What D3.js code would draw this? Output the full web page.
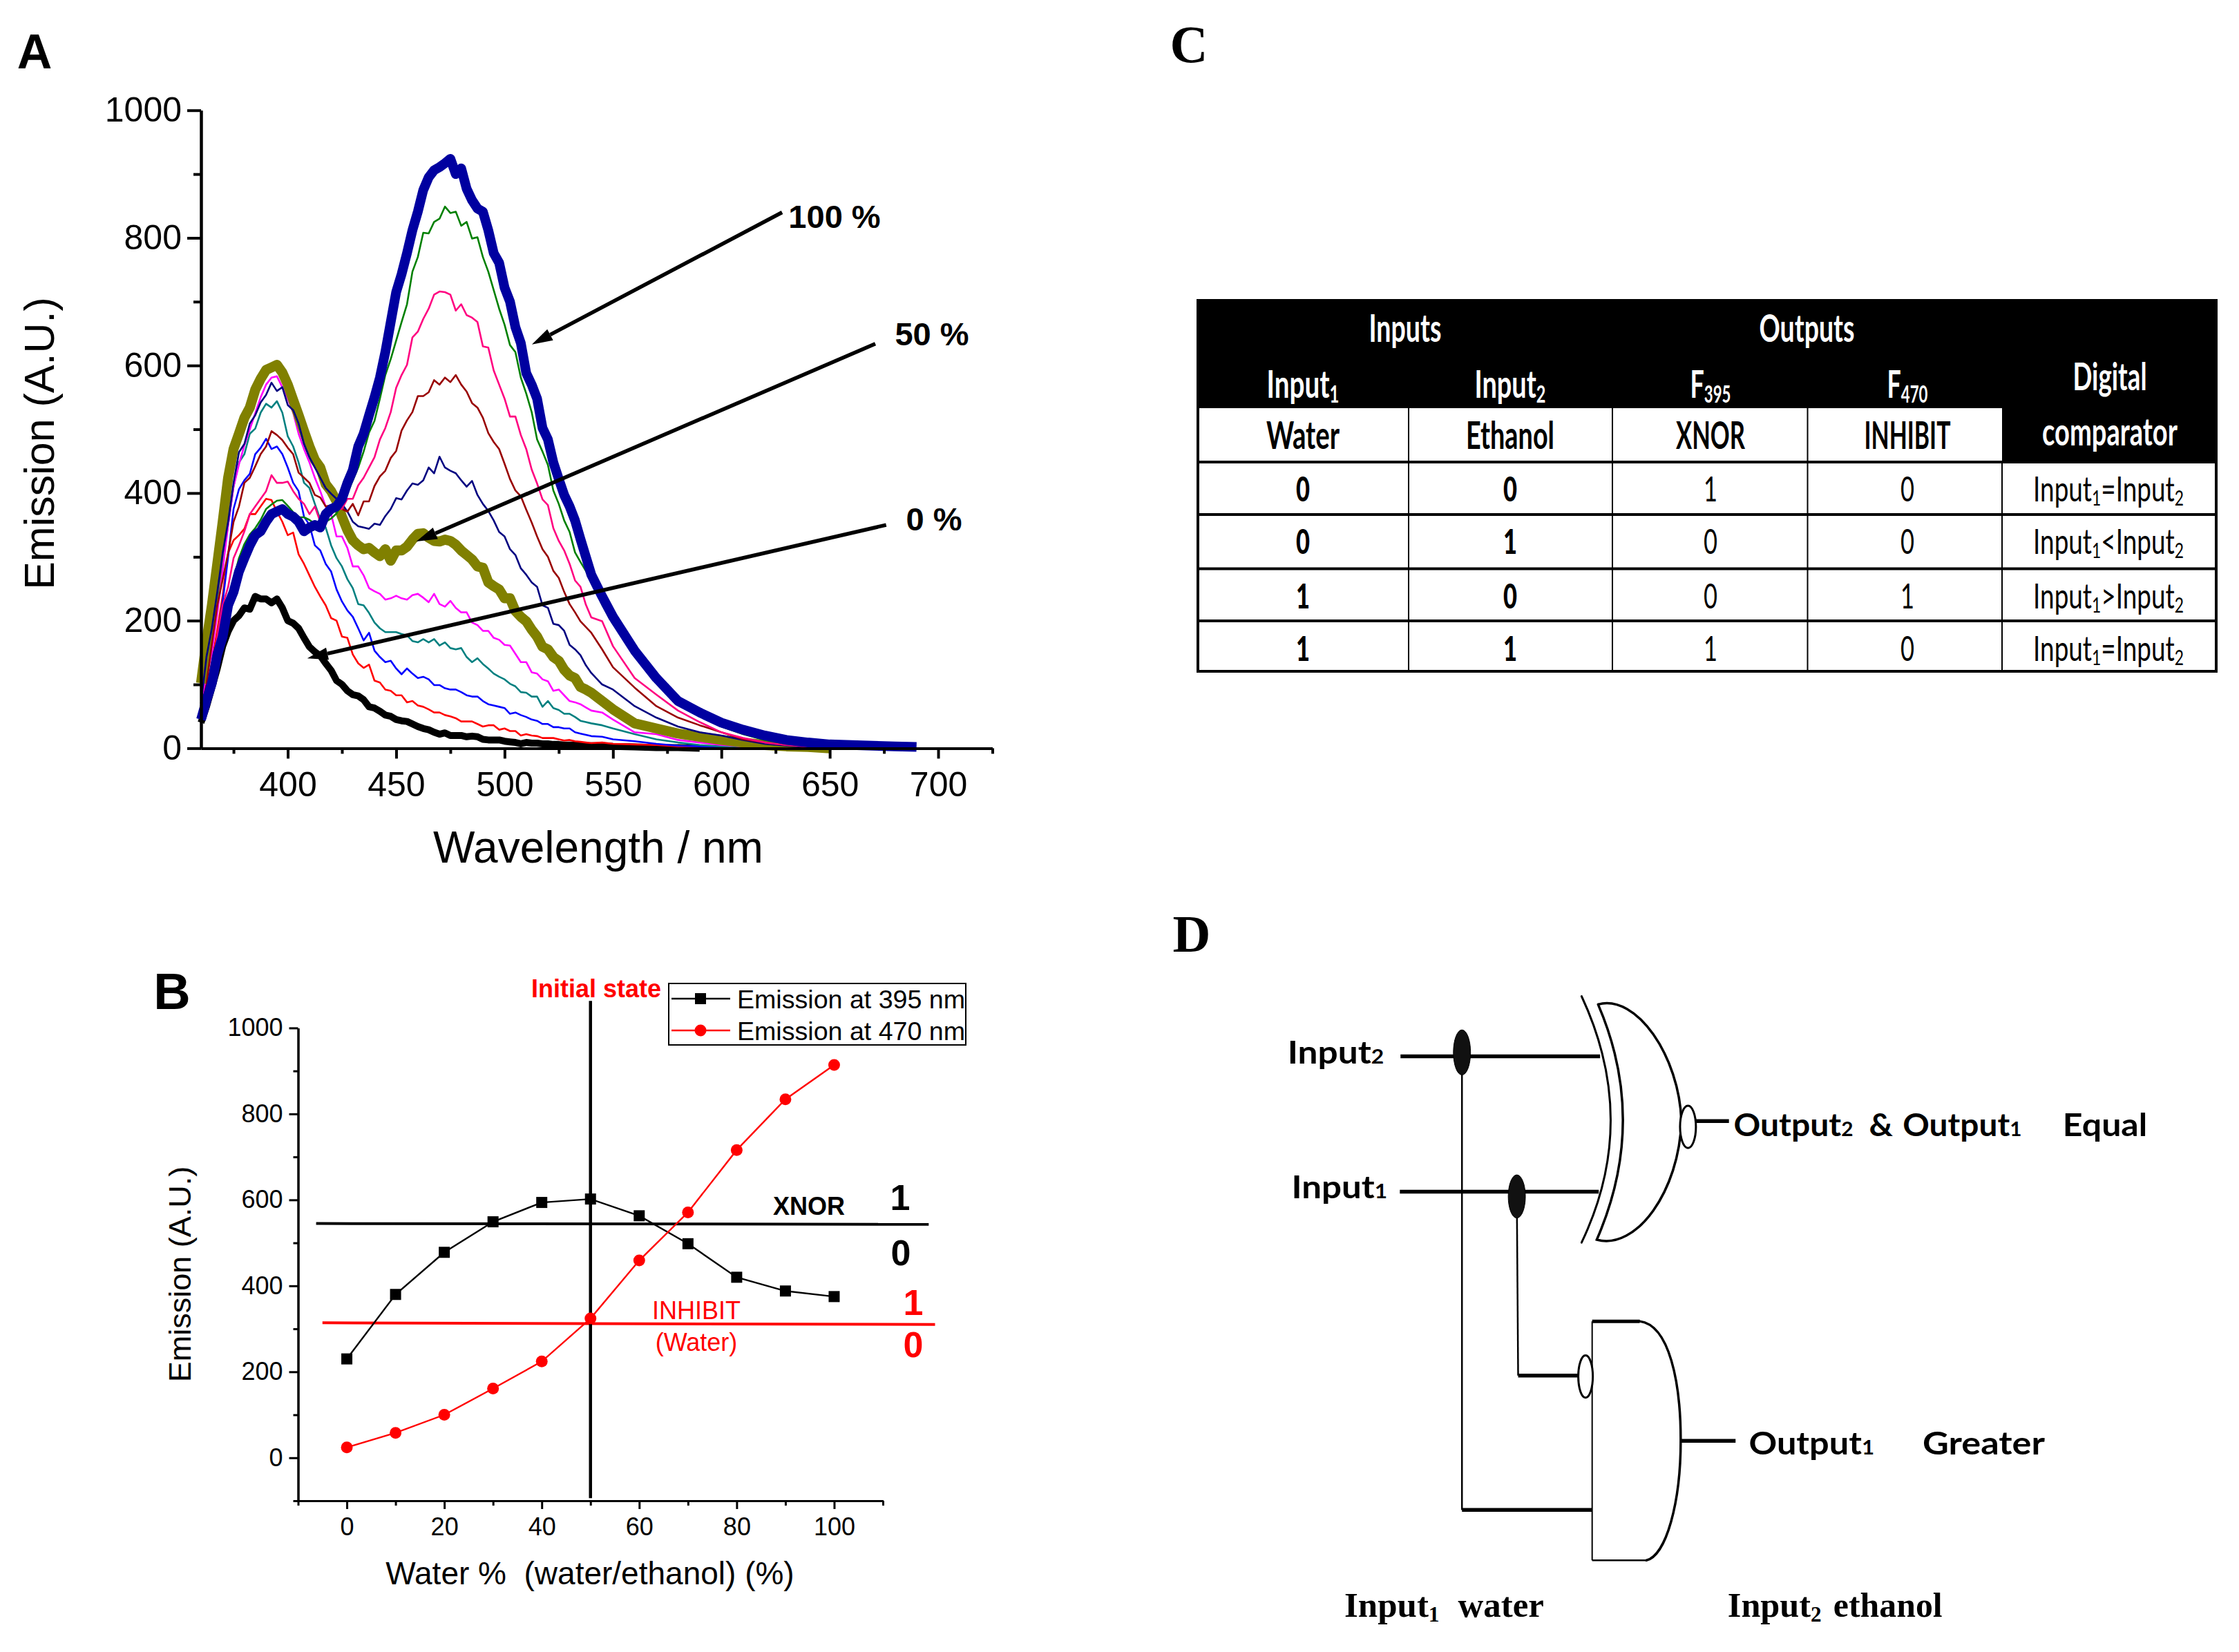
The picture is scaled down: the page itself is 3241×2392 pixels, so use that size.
<!DOCTYPE html>
<html>
<head>
<meta charset="utf-8">
<script src="https://d3js.org/d3.v7.min.js"></script>
<style>
  html, body { margin: 0; background: #fff; }
  svg { display: block; }
  text { white-space: pre; }
</style>
</head>
<body>
<div id="figure"></div>
<script>
// panel A: emission spectra
var wavelengths = [
  360,362.5,365,367.5,370,372.5,375,377.5,380,382.5,
  385,387.5,390,392.5,395,397.5,400,402.5,405,407.5,
  410,412.5,415,417.5,420,422.5,425,427.5,430,432.5,
  435,437.5,440,442.5,445,447.5,450,452.5,455,457.5,
  460,462.5,465,467.5,470,472.5,475,477.5,480,482.5,
  485,487.5,490,492.5,495,497.5,500,502.5,505,507.5,
  510,512.5,515,517.5,520,522.5,525,527.5,530,532.5,
  535,537.5,540,545,550,560,570,580,590,600,610,620,630,640,650,660,670,680,690];
var em0 = [
  40,65,95,125,160,183,200,208,220,218,
  238,234,234,228,234,220,200,196,188,173,
  159,151,145,133,122,106,100,90,84,82,
  76,65,63,58,52,50,45,43,42,38,
  34,31,29,25,22,24,20,20,20,18,
  19,18,14,13,13,13,11,10,9,7,
  9,8,8,7,7,6,6,5,5,5,
  4,4,4,4,3,2,1,1,0];
var em10 = [
  55,90,135,185,240,306,326,334,344,367,
  367,379,391,389,371,355,334,338,304,289,
  271,253,238,224,204,200,175,173,147,133,
  126,131,106,103,92,90,83,83,72,74,
  67,65,61,56,56,52,50,47,42,42,
  42,38,34,36,36,29,31,27,27,20,
  22,20,19,16,16,16,14,12,13,11,
  10,9,8,9,7,6,5,3,2,1,0];
var em20 = [
  55,85,120,170,230,300,375,406,420,430,
  461,471,485,469,473,461,440,416,403,363,
  350,318,310,289,277,249,230,216,206,188,
  169,181,153,143,135,137,125,116,125,117,
  110,112,108,99,99,94,92,92,88,83,
  81,81,74,69,67,65,63,54,56,52,
  49,45,43,38,38,33,33,31,31,25,
  23,21,19,18,14,11,7,4,3,2,0];
var em30 = [
  70,120,170,225,290,350,410,448,461,493,
  501,526,540,534,544,526,489,473,448,416,
  408,383,359,346,318,298,285,265,251,226,
  224,212,197,188,182,182,182,179,177,168,
  166,171,166,171,161,166,157,155,157,143,
  135,141,132,125,117,112,108,101,97,88,
  87,81,81,65,74,63,60,54,54,49,
  43,41,39,36,31,22,14,9,5,3,0];
var em40 = [
  70,110,150,210,280,350,410,445,475,500,
  525,550,570,581,583,566,548,526,493,469,
  448,424,403,379,367,332,332,314,285,285,
  271,251,246,242,233,235,239,235,233,240,
  242,236,229,242,226,222,231,220,213,213,
  197,193,184,184,173,170,162,161,148,135,
  135,119,117,108,105,90,92,83,74,72,
  69,64,59,56,45,25,22,13,9,5,3,0];
var em50 = [
  102,167,224,289,355,424,469,493,518,534,
  562,579,593,597,601,589,570,546,522,497,
  473,452,440,414,403,387,363,342,326,318,
  312,314,307,301,312,294,310,310,316,327,
  336,337,330,325,324,327,325,319,310,303,
  296,285,283,260,254,249,235,235,215,206,
  199,186,175,159,155,143,137,123,114,110,
  96,92,87,74,61,39,31,23,18,13,9,5,3,2,0];
var em60 = [
  70,143,188,245,306,355,416,464,477,509,
  522,542,554,573,560,566,538,530,509,477,
  456,440,424,408,399,391,383,371,355,348,
  346,344,352,350,364,375,392,390,404,415,
  413,420,440,431,457,440,435,431,420,410,
  419,397,383,372,357,339,332,312,303,282,
  272,260,253,224,220,195,193,184,162,155,
  146,130,118,100,92,66,48,34,25,20,13,7,4,2,0];
var em70 = [
  60,100,163,224,265,306,355,379,416,424,
  442,461,473,497,491,483,471,461,432,424,
  416,397,393,379,381,381,375,371,383,365,
  387,387,411,426,435,455,466,498,514,527,
  552,552,558,577,570,581,574,585,570,559,
  541,534,518,494,480,469,446,422,404,395,
  374,354,332,312,300,278,267,245,226,213,
  199,190,181,155,127,95,66,48,36,25,14,9,5,3,0];
var em80 = [
  55,85,125,175,224,253,298,318,340,367,
  379,391,403,428,416,416,418,403,391,383,
  367,379,355,371,367,377,375,391,391,412,
  424,440,456,484,502,527,565,585,601,644,
  653,673,689,711,716,715,711,686,696,679,
  675,668,630,628,592,570,548,520,520,491,
  469,437,415,390,381,345,325,310,289,263,
  253,225,205,199,160,110,84,59,41,25,16,9,5,3,0];
var em90 = [
  45,75,110,155,195,235,265,298,320,335,
  345,358,375,382,388,389,380,370,362,362,
  358,352,350,355,360,368,385,400,420,440,
  465,495,513,548,585,610,639,668,696,747,
  770,808,807,825,830,849,839,841,819,825,
  799,801,770,747,718,689,664,632,621,581,
  556,527,484,465,444,404,383,357,339,307,
  292,278,262,225,195,150,105,70,50,34,22,13,7,4,2,0];
var em100 = [
  45,75,102,147,175,224,245,277,298,318,
  334,340,355,367,371,375,367,363,355,340,
  346,350,346,367,375,379,391,416,436,473,
  493,522,550,581,621,668,715,743,776,812,
  841,875,895,906,911,917,924,900,909,877,
  859,846,841,812,776,761,722,700,660,635,
  588,570,548,502,484,448,422,397,379,357,
  328,300,272,238,206,153,110,74,56,40,29,20,13,9,6,5,4,3,2];

var spectra = [em0, em10, em20, em30, em40, em50, em60, em70, em80, em90, em100];
var spectraColors = ["#000000","#ff0000","#0000ff","#008080","#ff00ff","#808000","#000080","#990000","#ff0080","#008000","#0000a0"];
var spectraWidths = [10,2.6,2.6,2.6,2.6,14.5,2.6,2.6,2.6,2.6,14];

// arrows on panel A, [from nm, from value, to nm, to value, label]
var arrowsA = [
  [628, 840, 512.6, 633, "100 %"],
  [671, 634, 459.3, 324, "50 %"],
  [676, 350, 409, 141, "0 %"]
];

// panel B
var waterPct = [0,10,20,30,40,50,60,70,80,90,100];
var em395 = [230,380,478,549,594,602,563,498,420,388,375];
var em470 = [24,58,100,161,224,324,459,571,716,834,914];
var xnorThreshold = [[-6.3,545],[119.4,543]];
var inhibitThreshold = [[-5,314],[120.7,310]];
var initialState = [[50,1063],[50,-94]];

// panel C
var tableRows = [
  ["0","0","1","0","="],
  ["0","1","0","0","<"],
  ["1","0","0","1",">"],
  ["1","1","1","0","="]
];

var svg = d3.select("#figure").append("svg")
  .attr("width", 3241)
  .attr("height", 2392)
  .attr("font-family", "Liberation Sans");

// text squeezed to a given width, the table and gate labels are stretched in the original
function fitText(g, parts, cx, cy, width, size, font, weight, fill) {
  var t = g.append("text")
    .attr("text-anchor", "middle")
    .attr("font-size", size)
    .attr("font-family", font)
    .attr("font-weight", weight)
    .attr("fill", fill)
    .attr("stroke", "none")
    .attr("dy", "0.36em");
  parts.forEach(function(p) {
    var s = t.append("tspan").text(p.t);
    if (p.sub) s.attr("font-size", size * 0.62).attr("dy", p.dy || 0);
    if (p.back) s.attr("dy", p.back);
  });
  var w = t.node().getComputedTextLength();
  t.attr("transform", "translate(" + cx + "," + cy + ") scale(" + (width / w) + ",1)");
  return t;
}

function plainText(x, y, str, size, weight, fill, anchor) {
  return svg.append("text")
    .attr("x", x).attr("y", y).attr("dy", "0.36em")
    .attr("font-size", size)
    .attr("font-weight", weight)
    .attr("fill", fill)
    .attr("text-anchor", anchor || "middle")
    .text(str);
}

function styleAxis(g, width, size) {
  g.select(".domain").attr("stroke", "#000").attr("stroke-width", width);
  g.selectAll("line").attr("stroke", "#000").attr("stroke-width", width);
  if (size) g.selectAll("text").attr("font-size", size).attr("font-family", "Liberation Sans").attr("fill", "#000");
}

// ---- A ----
var xA = d3.scaleLinear().domain([360, 725]).range([291, 1436.5]);
var yA = d3.scaleLinear().domain([0, 1000]).range([1083.4, 159.7]);

spectra.forEach(function(vals, i) {
  var line = d3.line()
    .x(function(d, j) { return xA(wavelengths[j]); })
    .y(function(d) { return yA(d); });
  svg.append("path")
    .datum(vals)
    .attr("d", line)
    .attr("fill", "none")
    .attr("stroke", spectraColors[i])
    .attr("stroke-width", spectraWidths[i])
    .attr("stroke-linejoin", "round");
});

var axA = svg.append("g").attr("transform", "translate(0,1083.4)");
axA.call(d3.axisBottom(xA).tickValues(d3.range(400, 701, 50)).tickSize(15).tickSizeOuter(0).tickPadding(19).tickFormat(d3.format("d")));
styleAxis(axA, 4, 50);
var axAm = svg.append("g").attr("transform", "translate(0,1083.4)");
axAm.call(d3.axisBottom(xA).tickValues(d3.range(375, 726, 50)).tickSize(8).tickSizeOuter(0).tickFormat(""));
styleAxis(axAm, 4);
var ayA = svg.append("g").attr("transform", "translate(291,0)");
ayA.call(d3.axisLeft(yA).tickValues(d3.range(0, 1001, 200)).tickSize(20).tickSizeOuter(0).tickPadding(8).tickFormat(d3.format("d")));
styleAxis(ayA, 4, 50);
var ayAm = svg.append("g").attr("transform", "translate(291,0)");
ayAm.call(d3.axisLeft(yA).tickValues(d3.range(100, 1000, 200)).tickSize(11).tickSizeOuter(0).tickFormat(""));
styleAxis(ayAm, 4);

svg.append("text").attr("transform", "translate(56,642) rotate(-90)").attr("dy", "0.36em")
  .attr("text-anchor", "middle").attr("font-size", 61).text("Emission (A.U.)");
plainText(866, 1226, "Wavelength / nm", 64, "normal", "#000");

arrowsA.forEach(function(a) {
  var x0 = xA(a[0]), y0 = yA(a[1]), x1 = xA(a[2]), y1 = yA(a[3]);
  var ang = Math.atan2(y1 - y0, x1 - x0);
  var hl = 30, hw = 9;
  var bx = x1 - hl * Math.cos(ang), by = y1 - hl * Math.sin(ang);
  svg.append("line").attr("x1", x0).attr("y1", y0).attr("x2", bx).attr("y2", by)
    .attr("stroke", "#000").attr("stroke-width", 5.5);
  svg.append("polygon")
    .attr("points", [[x1, y1],
      [bx - hw * Math.sin(ang), by + hw * Math.cos(ang)],
      [bx + hw * Math.sin(ang), by - hw * Math.cos(ang)]].join(" "))
    .attr("fill", "#000");
});
plainText(1208, 313, arrowsA[0][4], 47, "bold", "#000");
plainText(1349, 483, arrowsA[1][4], 47, "bold", "#000");
plainText(1352, 751, arrowsA[2][4], 47, "bold", "#000");

plainText(50, 74, "A", 70, "bold", "#000");
plainText(249, 1434, "B", 74, "bold", "#000");

// ---- B ----
var xB = d3.scaleLinear().domain([-10, 110]).range([431.5, 1278]);
var yB = d3.scaleLinear().domain([-100, 1000]).range([2173, 1488.4]);

var axB = svg.append("g").attr("transform", "translate(0,2173)");
axB.call(d3.axisBottom(xB).tickValues(d3.range(0, 101, 20)).tickSize(12).tickSizeOuter(0).tickPadding(12).tickFormat(d3.format("d")));
styleAxis(axB, 3, 36);
var axBm = svg.append("g").attr("transform", "translate(0,2173)");
axBm.call(d3.axisBottom(xB).tickValues(d3.range(-10, 111, 20)).tickSize(7).tickSizeOuter(0).tickFormat(""));
styleAxis(axBm, 3);
var ayB = svg.append("g").attr("transform", "translate(431.5,0)");
ayB.call(d3.axisLeft(yB).tickValues(d3.range(0, 1001, 200)).tickSize(13).tickSizeOuter(0).tickPadding(9).tickFormat(d3.format("d")));
styleAxis(ayB, 3, 36);
var ayBm = svg.append("g").attr("transform", "translate(431.5,0)");
ayBm.call(d3.axisLeft(yB).tickValues(d3.range(-100, 1000, 200)).tickSize(7).tickSizeOuter(0).tickFormat(""));
styleAxis(ayBm, 3);

var lineB = d3.line().x(function(d) { return xB(d[0]); }).y(function(d) { return yB(d[1]); });

svg.append("path").datum(xnorThreshold).attr("d", lineB).attr("stroke", "#000").attr("stroke-width", 4).attr("fill", "none");
svg.append("path").datum(inhibitThreshold).attr("d", lineB).attr("stroke", "#ff0000").attr("stroke-width", 4).attr("fill", "none");
svg.append("path").datum(d3.zip(waterPct, em395)).attr("d", lineB).attr("stroke", "#000").attr("stroke-width", 2.4).attr("fill", "none");
svg.append("path").datum(d3.zip(waterPct, em470)).attr("d", lineB).attr("stroke", "#ff0000").attr("stroke-width", 2.4).attr("fill", "none");
svg.append("path").datum(initialState).attr("d", lineB).attr("stroke", "#000").attr("stroke-width", 4.5).attr("fill", "none");

svg.selectAll(".sq").data(d3.zip(waterPct, em395)).enter().append("rect")
  .attr("x", function(d) { return xB(d[0]) - 8; })
  .attr("y", function(d) { return yB(d[1]) - 8; })
  .attr("width", 16).attr("height", 16).attr("fill", "#000");
svg.selectAll(".dot").data(d3.zip(waterPct, em470)).enter().append("circle")
  .attr("cx", function(d) { return xB(d[0]); })
  .attr("cy", function(d) { return yB(d[1]); })
  .attr("r", 8.5).attr("fill", "#ff0000");

svg.append("text").attr("transform", "translate(260,1845) rotate(-90)").attr("dy", "0.36em")
  .attr("text-anchor", "middle").attr("font-size", 45).text("Emission (A.U.)");
plainText(854, 2277, "Water %  (water/ethanol) (%)", 46, "normal", "#000");

plainText(863, 1431, "Initial state", 36, "bold", "#ff0000");

// legend
svg.append("rect").attr("x", 968).attr("y", 1424).attr("width", 430).attr("height", 89)
  .attr("fill", "#fff").attr("stroke", "#000").attr("stroke-width", 2);
svg.append("line").attr("x1", 972).attr("x2", 1057).attr("y1", 1446).attr("y2", 1446).attr("stroke", "#000").attr("stroke-width", 2.4);
svg.append("rect").attr("x", 1006).attr("y", 1438).attr("width", 16).attr("height", 16).attr("fill", "#000");
svg.append("line").attr("x1", 972).attr("x2", 1057).attr("y1", 1492).attr("y2", 1492).attr("stroke", "#ff0000").attr("stroke-width", 2.4);
svg.append("circle").attr("cx", 1014).attr("cy", 1492).attr("r", 8.5).attr("fill", "#ff0000");
plainText(1067, 1446, "Emission at 395 nm", 37.6, "normal", "#000", "start");
plainText(1067, 1492, "Emission at 470 nm", 37.6, "normal", "#000", "start");

plainText(1171, 1746, "XNOR", 36, "bold", "#000");
plainText(1303, 1733, "1", 52, "bold", "#000");
plainText(1304, 1813, "0", 52, "bold", "#000");
plainText(1008, 1897, "INHIBIT", 36, "normal", "#ff0000");
plainText(1008, 1943, "(Water)", 36, "normal", "#ff0000");
plainText(1322, 1885, "1", 52, "bold", "#ff0000");
plainText(1322, 1946, "0", 52, "bold", "#ff0000");

// ---- C ----
plainText(1721, 63, "C", 76, "bold", "#000").attr("font-family", "Liberation Serif");
plainText(1725, 1351, "D", 76, "bold", "#000").attr("font-family", "Liberation Serif");

var colEdges = [1732, 2039, 2334, 2616.5, 2898, 3210];
var rowEdges = [669, 745, 823.5, 899, 974];
var tbl = svg.append("g");
var tblFont = "Lato";

tbl.append("rect").attr("x", 1732).attr("y", 433).attr("width", 1478).attr("height", 236).attr("fill", "#000");
tbl.append("rect").attr("x", 1735).attr("y", 591).attr("width", 1163).attr("height", 76).attr("fill", "#fff");
tbl.selectAll(".rowline").data(rowEdges.slice(0, 4)).enter().append("line")
  .attr("x1", 1732).attr("x2", 3210)
  .attr("y1", function(d) { return d; }).attr("y2", function(d) { return d; })
  .attr("stroke", "#000").attr("stroke-width", 4);
tbl.selectAll(".colline").data(colEdges.slice(1, 4)).enter().append("line")
  .attr("x1", function(d) { return d; }).attr("x2", function(d) { return d; })
  .attr("y1", 591).attr("y2", 974).attr("stroke", "#000").attr("stroke-width", 2);
tbl.append("line").attr("x1", 2898).attr("x2", 2898).attr("y1", 669).attr("y2", 974).attr("stroke", "#000").attr("stroke-width", 2);
tbl.append("rect").attr("x", 1734).attr("y", 435).attr("width", 1474).attr("height", 537)
  .attr("fill", "none").attr("stroke", "#000").attr("stroke-width", 4);

var subDown = "0.2em";
function hdr(parts, cx, cy, w, fill) { fitText(tbl, parts, cx, cy, w, 55, tblFont, "bold", fill); }
hdr([{t:"Inputs"}], 2034, 475, 105, "#fff");
hdr([{t:"Outputs"}], 2615.5, 475, 138, "#fff");
hdr([{t:"Input"},{t:"1",sub:true,dy:subDown}], 1886, 556, 105, "#fff");
hdr([{t:"Input"},{t:"2",sub:true,dy:subDown}], 2186, 556, 103, "#fff");
hdr([{t:"F"},{t:"395",sub:true,dy:subDown}], 2476, 556, 59, "#fff");
hdr([{t:"F"},{t:"470",sub:true,dy:subDown}], 2761, 556, 59, "#fff");
hdr([{t:"Digital"}], 3054, 545, 107, "#fff");
hdr([{t:"comparator"}], 3054, 625, 196, "#fff");
hdr([{t:"Water"}], 1886, 630, 106, "#000");
hdr([{t:"Ethanol"}], 2186, 630, 128, "#000");
hdr([{t:"XNOR"}], 2476, 630, 100, "#000");
hdr([{t:"INHIBIT"}], 2761, 630, 125, "#000");

var colCenters = [1886, 2186, 2476, 2761];
var rowCenters = [708, 784, 863, 939];
tableRows.forEach(function(r, i) {
  r.slice(0, 4).forEach(function(v, j) {
    fitText(tbl, [{t:v}], colCenters[j], rowCenters[i], 20, 50, tblFont, j < 2 ? 900 : "normal", "#000");
  });
  fitText(tbl, [{t:"Input"},{t:"1",sub:true,dy:subDown},{t:r[4],back:"-0.12em"},{t:"Input"},{t:"2",sub:true,dy:subDown}],
    3052, rowCenters[i], 218, 50, tblFont, "normal", "#000");
});

// ---- D ----
var sx = d3.scaleLinear().domain([0, 1568]).range([1680, 3180]);
var sy = d3.scaleLinear().domain([0, 1568]).range([1300, 2390]);
var gate = svg.append("g").attr("fill", "none").attr("stroke", "#000");

function wire(pts, w) {
  gate.append("path")
    .attr("d", d3.line().x(function(d) { return sx(d[0]); }).y(function(d) { return sy(d[1]); })(pts))
    .attr("stroke-width", w);
}
function blob(cx, cy, rx, ry, fill, w) {
  gate.append("ellipse").attr("cx", sx(cx)).attr("cy", sy(cy))
    .attr("rx", rx / 1.045).attr("ry", ry / 1.4385)
    .attr("fill", fill).attr("stroke-width", w);
}
function curve(build, w) {
  var p = d3.path();
  build(p);
  gate.append("path").attr("d", p.toString()).attr("stroke-width", w).attr("stroke-linecap", "round");
}

wire([[456,322],[456,1275]], 2.5);
wire([[539,622],[541,995]], 2.5);
wire([[363,330],[665,330]], 5.5);
wire([[362,612],[663,612]], 5.5);
wire([[541,995],[632,995]], 5.5);
wire([[456,1275],[653,1275]], 5.5);
wire([[810,465],[860,465]], 5.5);
wire([[787,1131],[870,1131]], 5.5);
blob(456, 322, 13, 47, "#111", 1);
blob(539, 622, 13, 45, "#111", 1);

// XNOR gate
curve(function(p) {
  p.moveTo(sx(637), sy(205));
  p.quadraticCurveTo(sx(725), sy(465), sx(637), sy(718));
}, 3);
curve(function(p) {
  p.moveTo(sx(662), sy(222));
  p.quadraticCurveTo(sx(738), sy(465), sx(660), sy(712));
  p.bezierCurveTo(sx(720), sy(735), sx(785), sy(610), sx(788), sy(465));
  p.bezierCurveTo(sx(785), sy(330), sx(720), sy(200), sx(662), sy(222));
}, 3.5);
blob(798, 477, 12, 44, "#fff", 3);

// INHIBIT gate
wire([[653,882],[653,1380]], 2);
wire([[653,882],[725,882]], 5);
wire([[653,1380],[735,1380]], 2.5);
curve(function(p) {
  p.moveTo(sx(725), sy(882));
  p.bezierCurveTo(sx(770), sy(890), sx(787), sy(1010), sx(787), sy(1130));
  p.bezierCurveTo(sx(787), sy(1260), sx(765), sy(1370), sx(735), sy(1380));
}, 3.5);
blob(643, 997, 11, 44, "#fff", 3);

function gateLabel(parts, z0, z1, zy) {
  fitText(svg, parts, (sx(z0) + sx(z1)) / 2, sy(zy), sx(z1) - sx(z0), 46, tblFont, "bold", "#000");
}
gateLabel([{t:"Input"},{t:"2",sub:true}], 192, 338, 322);
gateLabel([{t:"Input"},{t:"1",sub:true}], 198, 343, 602);
gateLabel([{t:"Output"},{t:"2",sub:true}], 867, 1048, 472);
gateLabel([{t:"&"}], 1072, 1108, 472);
gateLabel([{t:"Output"},{t:"1",sub:true}], 1123, 1303, 472);
gateLabel([{t:"Equal"}], 1365, 1493, 472);
gateLabel([{t:"Output"},{t:"1",sub:true}], 890, 1080, 1136);
gateLabel([{t:"Greater"}], 1153, 1338, 1136);

function serifLabel(parts, z0, z1, zy) {
  fitText(svg, parts, (sx(z0) + sx(z1)) / 2, sy(zy), sx(z1) - sx(z0), 50, "Liberation Serif", "bold", "#000");
}
serifLabel([{t:"Input"},{t:"1",sub:true,dy:"0.22em"}], 278, 422, 1472);
serifLabel([{t:"water"}], 450, 580, 1472);
serifLabel([{t:"Input"},{t:"2",sub:true,dy:"0.22em"}], 858, 1000, 1472);
serifLabel([{t:"ethanol"}], 1018, 1183, 1472);
</script>
</body>
</html>
